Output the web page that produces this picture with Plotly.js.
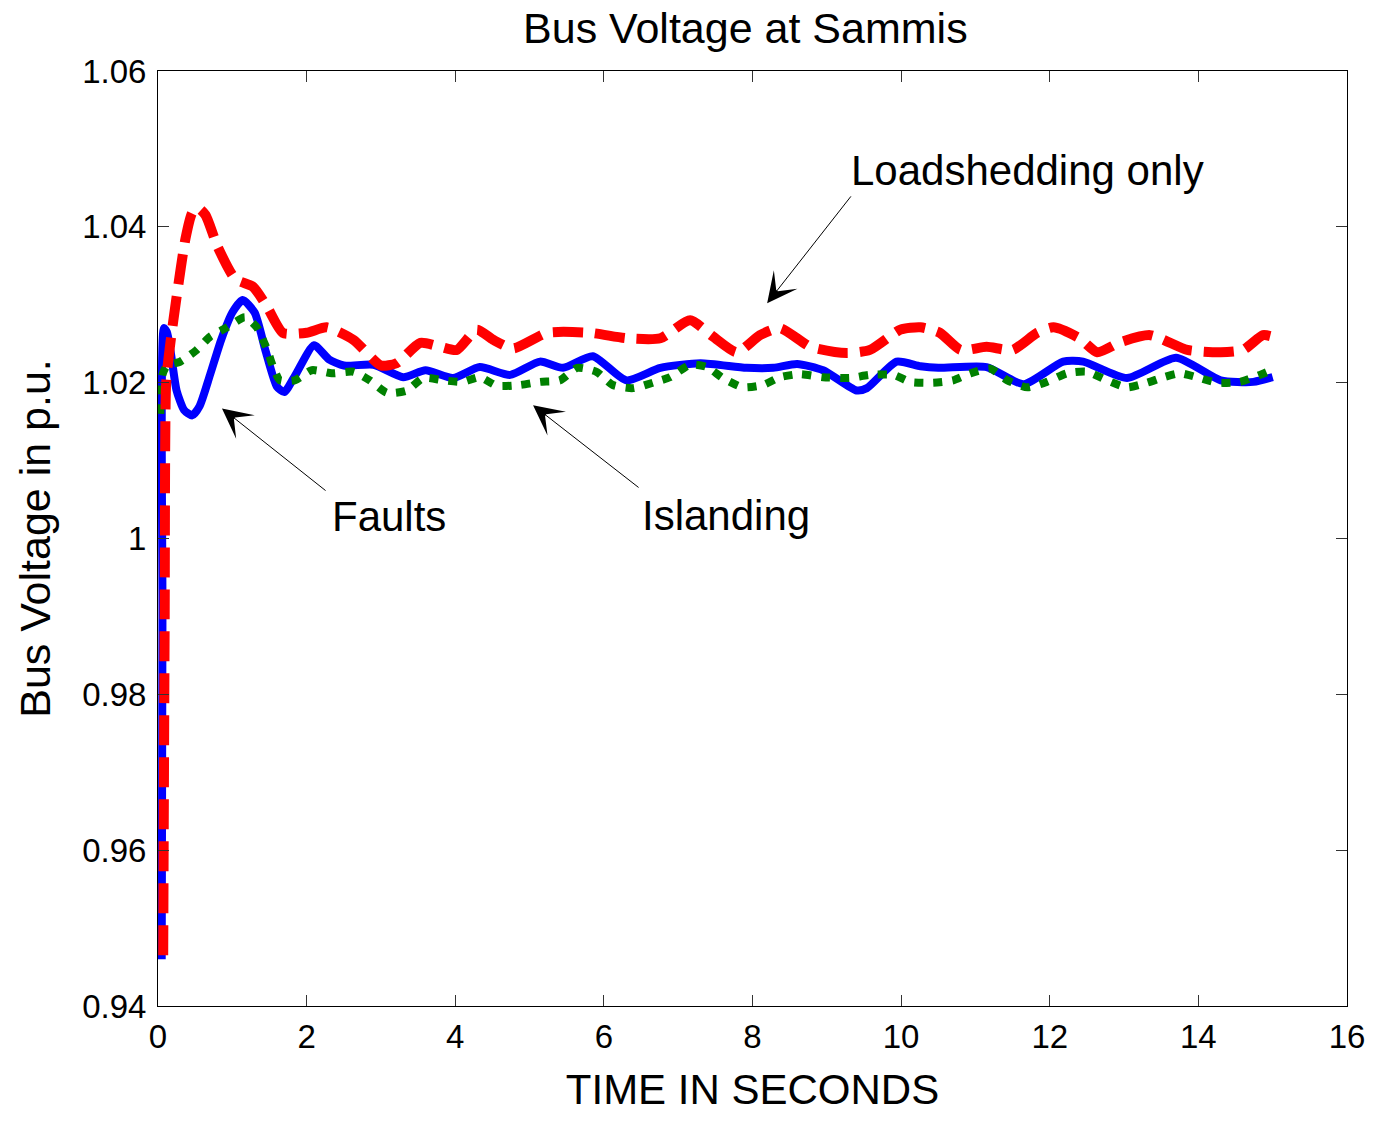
<!DOCTYPE html>
<html>
<head>
<meta charset="utf-8">
<script src="https://cdn.plot.ly/plotly-3.0.1.min.js"></script>
<style>html,body{margin:0;padding:0;background:#fff;}#chart{width:1380px;height:1121px;}</style>
</head>
<body>
<div id="chart"></div>
<script>
// Faults (blue, solid)
const faultsT = [0.05, 0.06, 0.08, 0.12, 0.17, 0.25, 0.35, 0.46, 0.56, 0.7, 0.85, 1.0, 1.14, 1.3, 1.45, 1.6, 1.7, 1.85, 2.1, 2.3, 2.5, 2.9, 3.3, 3.6, 3.97, 4.33, 4.74, 5.14, 5.45, 5.85, 6.3, 6.76, 7.3, 7.92, 8.28, 8.6, 8.95, 9.4, 9.54, 9.94, 10.26, 10.5, 11.15, 11.65, 12.18, 12.45, 13.04, 13.7, 14.3, 14.74, 15.0];
const faultsV = [0.946, 0.99, 1.027, 1.0265, 1.024, 1.019, 1.0165, 1.0158, 1.017, 1.021, 1.0255, 1.029, 1.0306, 1.029, 1.024, 1.0195, 1.0188, 1.021, 1.0248, 1.023, 1.0222, 1.0223, 1.0207, 1.0216, 1.0206, 1.022, 1.021, 1.0227, 1.0219, 1.0234, 1.0203, 1.0219, 1.0225, 1.0219, 1.0219, 1.0224, 1.0216, 1.019, 1.0193, 1.0227, 1.0221, 1.0219, 1.022, 1.0198, 1.0227, 1.0227, 1.0206, 1.0232, 1.0203, 1.0201, 1.0207];

// Islanding (green, dotted)
const islandT = [0.03, 0.06, 0.12, 0.3, 0.52, 0.7, 0.93, 1.17, 1.33, 1.47, 1.55, 1.64, 1.84, 2.07, 2.34, 2.63, 2.85, 3.08, 3.35, 3.57, 3.84, 4.1, 4.33, 4.56, 4.87, 5.14, 5.41, 5.64, 5.9, 6.12, 6.39, 6.66, 6.89, 7.16, 7.39, 7.6, 7.87, 8.14, 8.37, 8.64, 8.95, 9.31, 9.58, 9.9, 10.12, 10.43, 10.7, 10.93, 11.2, 11.43, 11.7, 11.96, 12.23, 12.5, 12.77, 13.04, 13.31, 13.53, 13.75, 13.98, 14.25, 14.56, 14.83, 14.93];
const islandV = [1.016, 1.021, 1.0222, 1.0227, 1.0242, 1.0259, 1.0271, 1.0284, 1.0271, 1.0242, 1.022, 1.0203, 1.0203, 1.0216, 1.0212, 1.0214, 1.0203, 1.0187, 1.019, 1.0206, 1.0203, 1.0201, 1.0207, 1.0196, 1.0197, 1.0201, 1.0203, 1.0219, 1.0214, 1.0197, 1.0193, 1.02, 1.0207, 1.0223, 1.022, 1.0206, 1.0194, 1.0197, 1.0207, 1.0211, 1.0207, 1.0206, 1.021, 1.021, 1.0201, 1.02, 1.0203, 1.0212, 1.0218, 1.0203, 1.0194, 1.0201, 1.0212, 1.0214, 1.0203, 1.0194, 1.02, 1.0207, 1.0212, 1.0207, 1.02, 1.0201, 1.021, 1.0214];

// Loadshedding only (red, dashed)
const loadT = [0.07, 0.09, 0.11, 0.16, 0.25, 0.37, 0.46, 0.54, 0.64, 0.8, 1.04, 1.28, 1.47, 1.68, 2.0, 2.27, 2.63, 3.0, 3.21, 3.53, 3.8, 4.02, 4.29, 4.51, 4.78, 5.24, 5.81, 6.31, 6.76, 7.16, 7.47, 7.79, 8.1, 8.37, 8.78, 9.27, 9.58, 9.99, 10.26, 10.52, 10.8, 11.15, 11.5, 11.83, 12.05, 12.4, 12.64, 12.95, 13.35, 13.85, 14.3, 14.6, 14.87, 15.0];
const loadV = [0.9465, 0.99, 1.02, 1.0246, 1.031, 1.0385, 1.0418, 1.0424, 1.0415, 1.0375, 1.0333, 1.0323, 1.0297, 1.0264, 1.0264, 1.0271, 1.0255, 1.0222, 1.0225, 1.0251, 1.0246, 1.0242, 1.0268, 1.0255, 1.0244, 1.0264, 1.0264, 1.0257, 1.0257, 1.028, 1.0259, 1.0239, 1.0261, 1.027, 1.0246, 1.0238, 1.0242, 1.0268, 1.0271, 1.0264, 1.0242, 1.0246, 1.0242, 1.0264, 1.0271, 1.0257, 1.0239, 1.0252, 1.0261, 1.0242, 1.0239, 1.0242, 1.0261, 1.0259];

const xTicks = [0, 2, 4, 6, 8, 10, 12, 14, 16];
const yTicks = [0.94, 0.96, 0.98, 1.0, 1.02, 1.04, 1.06];
const yTickText = ["0.94", "0.96", "0.98", "1", "1.02", "1.04", "1.06"];

// annotation anchors (data units)
const labels = ["Loadshedding only", "Faults", "Islanding"];
const labelX = [9.3, 2.31, 6.48];
const labelY = [1.0472, 1.0028, 1.003];
const tailX = [9.34, 2.275, 6.487];
const tailY = [1.0441, 1.006, 1.0064];
const headX = [8.197, 0.861, 5.047];
const headY = [1.0302, 1.0167, 1.0171];

const FONT = "Liberation Sans, Arial, Helvetica, sans-serif";

const traces = [
  {x: faultsT, y: faultsV, mode: 'lines', name: 'Faults',
   line: {color: '#0000ff', width: 8, shape: 'spline', smoothing: 0.6}},
  {x: islandT, y: islandV, mode: 'lines', name: 'Islanding',
   line: {color: '#008000', width: 8, dash: '9px,10px', shape: 'spline', smoothing: 0.6}},
  {x: loadT, y: loadV, mode: 'lines', name: 'Loadshedding only',
   line: {color: '#ff0000', width: 10, dash: '30px,12px', shape: 'spline', smoothing: 0.6}}
];

const annotations = [];
for (let i = 0; i < labels.length; i++) {
  annotations.push({x: headX[i], y: headY[i], xref: 'x', yref: 'y',
    ax: tailX[i], ay: tailY[i], axref: 'x', ayref: 'y',
    text: '', showarrow: true, arrowhead: 3, arrowsize: 5, arrowwidth: 1, arrowcolor: '#000'});
  annotations.push({x: labelX[i], y: labelY[i], xref: 'x', yref: 'y',
    text: labels[i], showarrow: false, xanchor: 'left', yanchor: 'middle',
    font: {family: FONT, size: 42, color: '#000'}});
}

const layout = {
  width: 1380, height: 1121,
  margin: {l: 158, r: 33, t: 71, b: 115},
  paper_bgcolor: '#fff', plot_bgcolor: '#fff',
  showlegend: false,
  font: {family: FONT, color: '#000'},
  title: {text: 'Bus Voltage at Sammis', font: {family: FONT, size: 43, color: '#000'},
          x: 0.494, xref: 'paper', y: 1 - 28/1121, yref: 'container', yanchor: 'middle'},
  xaxis: {range: [0, 16], tickvals: xTicks, ticks: 'inside', ticklen: 11, tickcolor: '#333',
          showline: true, linecolor: '#000', linewidth: 1, mirror: 'ticks',
          showgrid: false, zeroline: false, tickfont: {family: FONT, size: 33, color: '#000'},
          ticklabelstandoff: 1,
          title: {text: 'TIME IN SECONDS', font: {family: FONT, size: 42, color: '#000'}, standoff: 21}},
  yaxis: {range: [0.94, 1.06], tickvals: yTicks, ticktext: yTickText, ticks: 'inside', ticklen: 11, tickcolor: '#333',
          showline: true, linecolor: '#000', linewidth: 1, mirror: 'ticks',
          showgrid: false, zeroline: false, tickfont: {family: FONT, size: 33, color: '#000'},
          ticklabelstandoff: 4,
          title: {text: 'Bus Voltage in p.u.', font: {family: FONT, size: 43, color: '#000'}, standoff: 18}},
  annotations: annotations
};

Plotly.newPlot('chart', traces, layout, {displayModeBar: false, staticPlot: true});
</script>
</body>
</html>
